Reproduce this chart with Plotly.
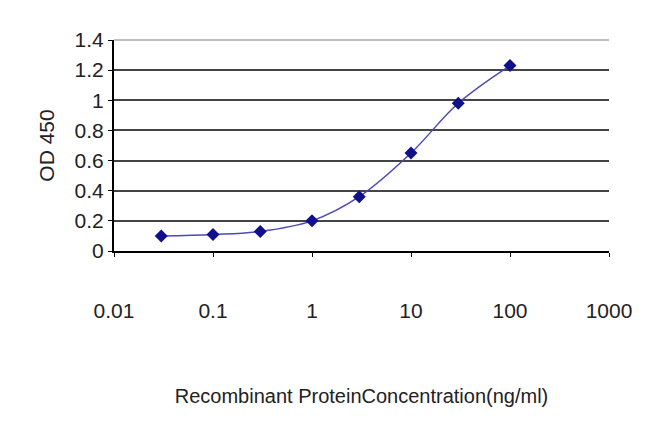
import plotly.graph_objects as go

conc = [0.03, 0.1, 0.3, 1, 3, 10, 30, 100]
od = [0.10, 0.11, 0.13, 0.20, 0.36, 0.65, 0.98, 1.23]
xticks = [0.01, 0.1, 1, 10, 100, 1000]
xlabels = ["0.01", "0.1", "1", "10", "100", "1000"]
yticks = [0, 0.2, 0.4, 0.6, 0.8, 1, 1.2, 1.4]
ylabels = ["0", "0.2", "0.4", "0.6", "0.8", "1", "1.2", "1.4"]

fig = go.Figure(go.Scatter(
    x=conc, y=od, mode="lines+markers",
    line=dict(color="#4a4ab8", width=1.5, shape="spline"),
    marker=dict(symbol="diamond", size=10, color="#10108a"),
))
font = dict(family="Liberation Sans, Arial", size=21, color="#222")
fig.update_layout(
    width=650, height=433, showlegend=False,
    paper_bgcolor="white", plot_bgcolor="white",
    margin=dict(l=106, r=49, t=32, b=190),
    font=font,
    xaxis=dict(type="log", range=[-2, 3], tickvals=xticks, ticktext=xlabels,
               showgrid=False, showline=True, linecolor="black", linewidth=2,
               ticks="outside", ticklen=4, tickcolor="black", ticklabelstandoff=36,
               tickfont=dict(size=21),
               mirror=False, zeroline=False,
               title=dict(text="Recombinant ProteinConcentration(ng/ml)", standoff=68,
                          font=dict(size=20))),
    yaxis=dict(range=[0, 1.4], tickvals=yticks, ticktext=ylabels,
               showgrid=True, gridcolor="#444", gridwidth=2,
               tickfont=dict(size=21),
               showline=True, linecolor="black", linewidth=2,
               ticks="outside", ticklen=4, tickcolor="black", zeroline=False,
               title=dict(text="OD 450", standoff=14, font=dict(size=21))),
)
fig.add_shape(type="line", xref="paper", yref="paper", x0=0, x1=1, y0=1, y1=1,
              line=dict(color="#aaa", width=1.5))
fig.write_html("out.html")
